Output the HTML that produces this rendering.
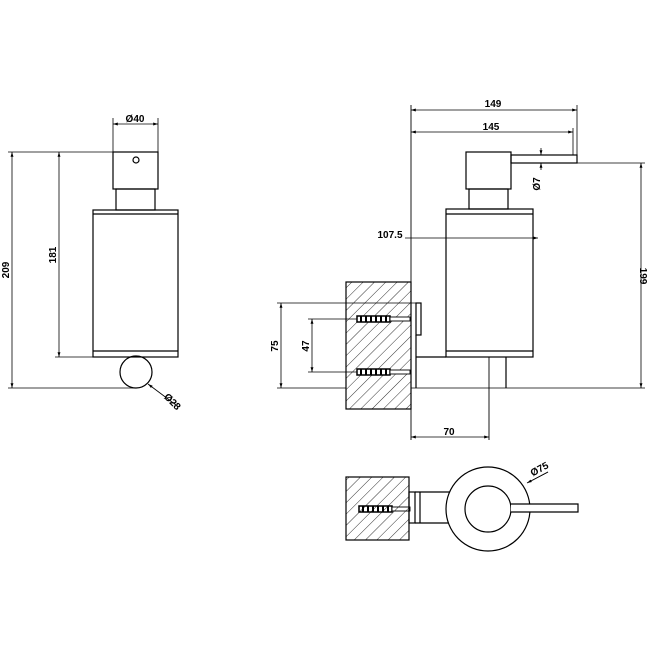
<!DOCTYPE html>
<html><head><style>body{margin:0;background:#fff}svg{display:block}text{font-family:"Liberation Sans",sans-serif;font-size:10px;font-weight:bold;fill:#000}</style></head>
<body>
<svg width="648" height="648" viewBox="0 0 648 648" xmlns="http://www.w3.org/2000/svg">
<defs>
<pattern id="h" patternUnits="userSpaceOnUse" width="8" height="8" patternTransform="rotate(45)">
<line x1="0" y1="0" x2="0" y2="8" stroke="#000" stroke-width="0.8"/>
</pattern>
<marker id="a" viewBox="0 0 10 10" refX="10" refY="5" markerWidth="6" markerHeight="6" orient="auto-start-reverse"><path d="M0,2L10,5L0,8z" fill="#000"/></marker>
</defs>
<g stroke="#000" fill="none" stroke-width="1.2">
<!-- LEFT VIEW -->
<rect x="113" y="152" width="45" height="37"/>
<circle cx="136" cy="160" r="3"/>
<rect x="116" y="189" width="39" height="21"/>
<rect x="93" y="210" width="85" height="147"/>
<line x1="93" y1="214" x2="178" y2="214"/>
<line x1="93" y1="351" x2="178" y2="351"/>
<circle cx="136" cy="372" r="16"/>
<line x1="113" y1="118" x2="113" y2="152" stroke-width="0.8"/>
<line x1="158" y1="118" x2="158" y2="152" stroke-width="0.8"/>
<line x1="113" y1="124" x2="158" y2="124" stroke-width="0.8" marker-start="url(#a)" marker-end="url(#a)"/>
<line x1="8" y1="152" x2="113" y2="152" stroke-width="0.8"/>
<line x1="8" y1="388" x2="136" y2="388" stroke-width="0.8"/>
<line x1="12" y1="152" x2="12" y2="388" stroke-width="0.8" marker-start="url(#a)" marker-end="url(#a)"/>
<line x1="55" y1="357" x2="93" y2="357" stroke-width="0.8"/>
<line x1="59" y1="152" x2="59" y2="357" stroke-width="0.8" marker-start="url(#a)" marker-end="url(#a)"/>
<line x1="148" y1="384" x2="176" y2="405" stroke-width="0.8" marker-start="url(#a)"/>
<!-- RIGHT VIEW -->
<line x1="411" y1="105" x2="411" y2="440" stroke-width="0.9"/>
<line x1="577" y1="105" x2="577" y2="163" stroke-width="0.8"/>
<line x1="573" y1="128" x2="573" y2="155" stroke-width="0.8"/>
<line x1="411" y1="110" x2="577" y2="110" stroke-width="0.8" marker-start="url(#a)" marker-end="url(#a)"/>
<line x1="411" y1="132" x2="573" y2="132" stroke-width="0.8" marker-start="url(#a)" marker-end="url(#a)"/>
<rect x="466" y="152" width="45" height="37"/>
<rect x="511" y="155" width="66" height="8"/>
<rect x="469" y="189" width="39" height="20"/>
<rect x="446" y="209" width="87" height="148"/>
<line x1="446" y1="214" x2="533" y2="214"/>
<line x1="446" y1="351" x2="533" y2="351"/>
<line x1="541" y1="148" x2="541" y2="155" stroke-width="0.8" marker-end="url(#a)"/>
<line x1="541" y1="170" x2="541" y2="163" stroke-width="0.8" marker-end="url(#a)"/>
<line x1="405" y1="238" x2="538" y2="238" stroke-width="0.8" marker-end="url(#a)"/>
<line x1="577" y1="163" x2="645" y2="163" stroke-width="0.8"/>
<line x1="411" y1="388" x2="645" y2="388" stroke-width="0.8"/>
<line x1="641" y1="163" x2="641" y2="388" stroke-width="0.8" marker-start="url(#a)" marker-end="url(#a)"/>
<rect x="346" y="282" width="65" height="127" fill="url(#h)"/>
<rect x="416" y="303" width="5" height="32"/>
<line x1="416" y1="335" x2="416" y2="388"/>
<line x1="416" y1="357" x2="446" y2="357"/>
<line x1="489" y1="357" x2="489" y2="440" stroke-width="0.9"/>
<line x1="506" y1="357" x2="506" y2="388"/>
<line x1="277" y1="303" x2="416" y2="303" stroke-width="0.8"/>
<line x1="281" y1="303" x2="281" y2="388" stroke-width="0.8" marker-start="url(#a)" marker-end="url(#a)"/>
<line x1="277" y1="388" x2="346" y2="388" stroke-width="0.8"/>
<line x1="308" y1="319" x2="411" y2="319" stroke-width="0.8"/>
<line x1="308" y1="372" x2="411" y2="372" stroke-width="0.8"/>
<line x1="312" y1="319" x2="312" y2="372" stroke-width="0.8" marker-start="url(#a)" marker-end="url(#a)"/>
<line x1="411" y1="437" x2="489" y2="437" stroke-width="0.8" marker-start="url(#a)" marker-end="url(#a)"/>
<!-- screws -->
<g fill="#fff" stroke-width="1.5">
<rect x="357" y="316" width="33" height="6"/><rect x="390" y="317" width="20" height="4" stroke-width="0.9"/>
<rect x="357" y="369" width="33" height="6"/><rect x="390" y="370" width="20" height="4" stroke-width="0.9"/>
<rect x="359" y="506" width="33" height="6"/><rect x="392" y="507" width="18" height="4" stroke-width="0.9"/>
</g>
<g stroke-width="2"><path d="M361,316v6M366,316v6M371,316v6M376,316v6M381,316v6M386,316v6M361,369v6M366,369v6M371,369v6M376,369v6M381,369v6M386,369v6M363,506v6M368,506v6M373,506v6M378,506v6M383,506v6M388,506v6"/></g>
<!-- BOTTOM VIEW -->
<rect x="346" y="477" width="63" height="63" fill="url(#h)"/>
<rect x="409" y="492" width="6" height="31"/>
<line x1="420" y1="492" x2="420" y2="523"/>
<line x1="415" y1="492" x2="450" y2="492"/>
<line x1="415" y1="523" x2="450" y2="523"/>
<circle cx="488" cy="509" r="42" fill="#fff"/>
<circle cx="488" cy="509" r="23"/>
<path d="M511,504H578V512H511" fill="#fff"/>
<line x1="548" y1="472" x2="527" y2="483" stroke-width="0.8" marker-end="url(#a)"/>
<line x1="530" y1="472" x2="548" y2="472" stroke-width="0.8" transform="rotate(-28 548 472)"/>
</g>
<text x="135" y="122" text-anchor="middle">Ø40</text>
<text transform="translate(9 270) rotate(-90)" text-anchor="middle">209</text>
<text transform="translate(56 255) rotate(-90)" text-anchor="middle">181</text>
<text transform="translate(170 404) rotate(45)" text-anchor="middle">Ø28</text>
<text x="493" y="107" text-anchor="middle">149</text>
<text x="491" y="130" text-anchor="middle">145</text>
<text transform="translate(540 184) rotate(-90)" text-anchor="middle">Ø7</text>
<text x="390" y="238" text-anchor="middle">107.5</text>
<text transform="translate(640 276) rotate(90)" text-anchor="middle">199</text>
<text transform="translate(278 346) rotate(-90)" text-anchor="middle">75</text>
<text transform="translate(309 346) rotate(-90)" text-anchor="middle">47</text>
<text x="449" y="435" text-anchor="middle">70</text>
<text transform="translate(541 472) rotate(-28)" text-anchor="middle">Ø75</text>
</svg>
</body></html>
